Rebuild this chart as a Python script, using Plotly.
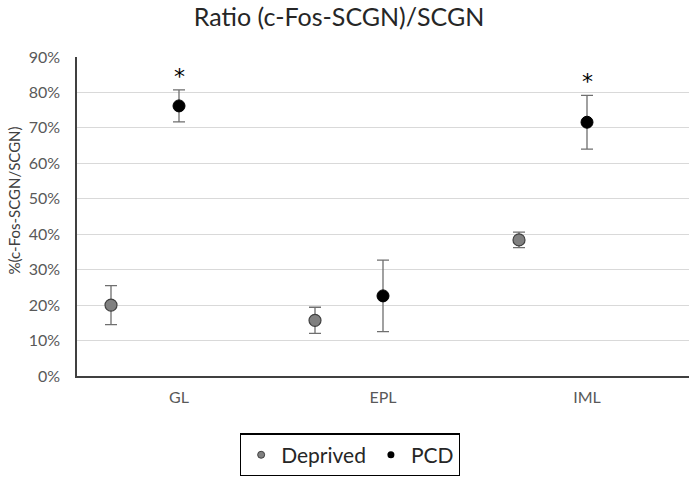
import plotly.graph_objects as go

categories = ["GL", "EPL", "IML"]
deprived = [0.200, 0.157, 0.384]
deprived_err = [0.055, 0.037, 0.022]
pcd = [0.762, 0.226, 0.716]
pcd_err = [0.045, 0.101, 0.076]
significant = [True, False, True]
y_ticks = [i / 10 for i in range(10)]

FONT = "Lato"
GRAY_TXT = "#595959"
idx = list(range(len(categories)))
dep_x = [i - 1 / 3 for i in idx]

fig = go.Figure()
fig.add_trace(go.Scatter(
    x=dep_x, y=deprived, mode="markers", showlegend=False,
    marker=dict(size=12, color="#808080", line=dict(color="#404040", width=1.2)),
    error_y=dict(type="data", array=deprived_err, color="#6f6f6f", thickness=1.3, width=6),
))
fig.add_trace(go.Scatter(
    x=idx, y=pcd, mode="markers", showlegend=False,
    marker=dict(size=12, color="#000000", line=dict(color="#000000", width=1)),
    error_y=dict(type="data", array=pcd_err, color="#6f6f6f", thickness=1.3, width=6),
))
# legend entries
fig.add_trace(go.Scatter(x=[None], y=[None], mode="markers", name="Deprived",
                         marker=dict(size=7, color="#808080", line=dict(color="#404040", width=1))))
fig.add_trace(go.Scatter(x=[None], y=[None], mode="markers", name="PCD",
                         marker=dict(size=7, color="#000000")))

for i, s in enumerate(significant):
    if s:
        fig.add_annotation(x=idx[i], y=pcd[i] + pcd_err[i], text="*", showarrow=False,
                           yanchor="bottom", yshift=-1,
                           font=dict(family="DejaVu Sans", size=22, color="#000000"))

fig.add_annotation(xref="paper", yref="paper", x=-0.103, y=0.55, text="%(c-Fos-SCGN/SCGN)",
                   textangle=-90, showarrow=False, xanchor="center", yanchor="middle",
                   font=dict(family=FONT, size=15, color="#404040"))

fig.update_layout(
    width=692, height=484,
    margin=dict(l=77, r=3, t=57, b=108, autoexpand=False),
    paper_bgcolor="white", plot_bgcolor="white",
    title=dict(text="Ratio (c-Fos-SCGN)/SCGN", x=0.49, xanchor="center", y=0.964, yanchor="middle",
               font=dict(family=FONT, size=25, color="#262626")),
    xaxis=dict(range=[-0.5, 2.5], tickvals=idx, ticktext=categories, showgrid=False, zeroline=False,
               showline=True, linecolor="#404040", linewidth=1.5, ticks="", ticklabelstandoff=6,
               tickfont=dict(family=FONT, size=16, color=GRAY_TXT), fixedrange=True),
    yaxis=dict(range=[0, 0.9], tickvals=y_ticks, tickformat=".0%", showgrid=True,
               gridcolor="#d9d9d9", gridwidth=1.3, zeroline=False, showline=True,
               linecolor="#404040", linewidth=1.5, ticks="", ticklabelstandoff=12,
               tickfont=dict(family=FONT, size=16, color=GRAY_TXT)),
    legend=dict(orientation="h", x=0.446, xanchor="center", y=-0.18, yanchor="top",
                bordercolor="#000000", borderwidth=1.2,
                font=dict(family=FONT, size=21, color="#262626"), itemwidth=30),
    showlegend=True,
)

fig.write_html("out.html", config={"displayModeBar": False},
               post_script="document.body.style.margin='0px';")
